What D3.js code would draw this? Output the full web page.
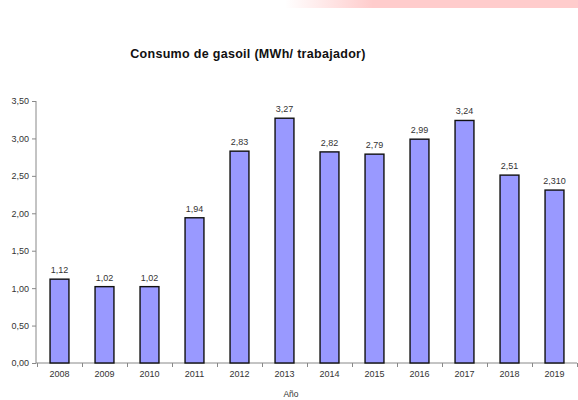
<!DOCTYPE html>
<html><head><meta charset="utf-8">
<script src="https://cdn.jsdelivr.net/npm/d3@7"></script>
<style>body{margin:0;background:#fff}svg{display:block}</style>
</head><body>
<script>
const years = ["2008","2009","2010","2011","2012","2013","2014","2015","2016","2017","2018","2019"];
const values = [1.12,1.02,1.02,1.94,2.83,3.27,2.82,2.79,2.99,3.24,2.51,2.31];
const valueLabels = ["1,12","1,02","1,02","1,94","2,83","3,27","2,82","2,79","2,99","3,24","2,51","2,310"];
const yTicks = [0,0.5,1,1.5,2,2.5,3,3.5];
const yTickLabels = ["0,00","0,50","1,00","1,50","2,00","2,50","3,00","3,50"];
const title = "Consumo de gasoil (MWh/ trabajador)";
const xTitle = "Año";

const W=578,H=400;
const svg=d3.select("body").append("svg").attr("width",W).attr("height",H);
const defs=svg.append("defs");
const g=defs.append("linearGradient").attr("id","pk").attr("x1","0").attr("x2","1");
g.append("stop").attr("offset","0").attr("stop-color","#fff");
g.append("stop").attr("offset","0.3").attr("stop-color","#ffcccc");
g.append("stop").attr("offset","1").attr("stop-color","#ffcccc");
svg.append("rect").attr("x",285).attr("y",0).attr("width",293).attr("height",8).attr("fill","url(#pk)");

const font="'Liberation Sans', Arial, sans-serif";
svg.append("text").attr("x",248).attr("y",58).attr("text-anchor","middle")
  .attr("font-family",font).attr("font-weight","bold").attr("font-size",12.5)
  .attr("letter-spacing",0.3).attr("fill","#111").text(title);

const x0=37,x1=577;
const x=d3.scaleBand().domain(years).range([x0,x1]).paddingInner(0.58).paddingOuter(0.29);
const y=d3.scaleLinear().domain([0,3.5]).range([363,101]);

const yAxis=svg.append("g").attr("transform","translate(36,0)")
  .call(d3.axisLeft(y).tickValues(yTicks).tickFormat((d,i)=>yTickLabels[i]).tickSize(4).tickPadding(3));
yAxis.select(".domain").attr("stroke","#888").attr("d","M0,363V101");
yAxis.selectAll(".tick line").attr("stroke","#888");
yAxis.selectAll("text").attr("font-family",font).attr("font-size",9).attr("fill","#333");

const step=x.step();
const xa=d3.axisBottom(d3.scaleLinear().domain([0,12]).range([x0,x0+12*step]))
  .tickValues(d3.range(0,13)).tickFormat("").tickSize(4);
const xAxis=svg.append("g").attr("transform","translate(0,363)").call(xa);
xAxis.select(".domain").attr("stroke","#888").attr("d",`M36,0H${x0+12*step}`);
xAxis.selectAll(".tick line").attr("stroke","#888");

svg.append("g").selectAll("text").data(years).join("text")
  .attr("x",d=>x(d)+x.bandwidth()/2).attr("y",377).attr("text-anchor","middle")
  .attr("font-family",font).attr("font-size",9).attr("fill","#333").text(d=>d);

svg.append("g").selectAll("rect").data(values).join("rect")
  .attr("x",(d,i)=>x(years[i])).attr("y",d=>y(d)).attr("width",x.bandwidth())
  .attr("height",d=>363-y(d)).attr("fill","#9999ff").attr("stroke","#111").attr("stroke-width",1.4);

svg.append("g").selectAll("text").data(values).join("text")
  .attr("x",(d,i)=>x(years[i])+x.bandwidth()/2).attr("y",d=>y(d)-6).attr("text-anchor","middle")
  .attr("font-family",font).attr("font-size",9).attr("fill","#333").text((d,i)=>valueLabels[i]);

svg.append("text").attr("x",291).attr("y",397).attr("text-anchor","middle")
  .attr("font-family",font).attr("font-size",8.5).attr("fill","#333").text(xTitle);
</script>
</body></html>
